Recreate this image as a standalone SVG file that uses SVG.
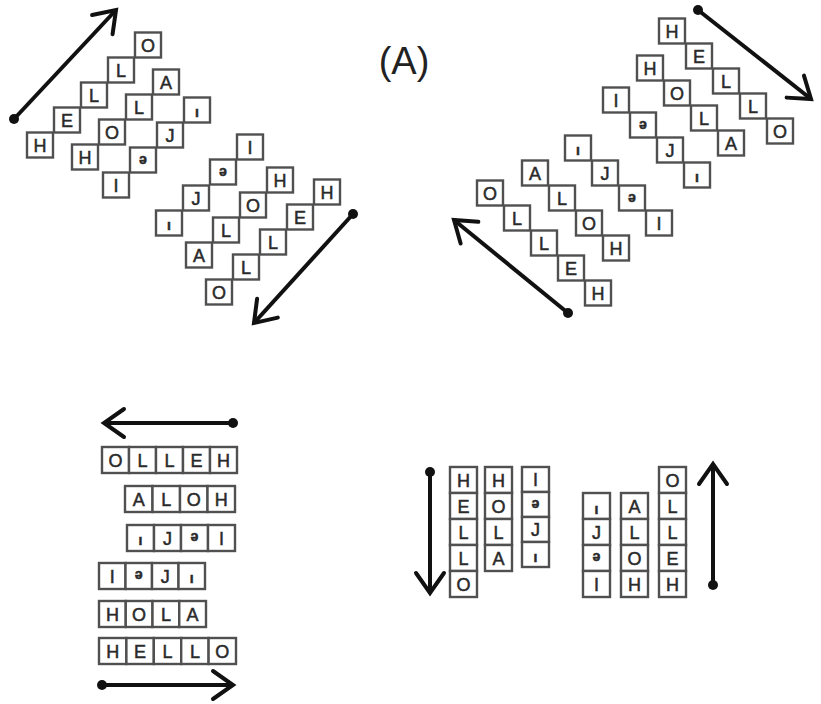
<svg xmlns="http://www.w3.org/2000/svg" width="821" height="704" viewBox="0 0 821 704">
<defs>
<style>
.b{fill:#fff;stroke:#505050;stroke-width:2.4}
.t{font-family:"Liberation Sans",Arial,sans-serif;font-size:18px;fill:#2a2a2a;stroke:#2a2a2a;stroke-width:0.5;text-anchor:middle}
.s{font-size:14px;font-weight:bold}
.a{stroke:#111;stroke-width:4;fill:none;marker-end:url(#head);marker-start:url(#dot)}
.lbl{font-family:"Liberation Sans",Arial,sans-serif;font-size:38px;fill:#222;text-anchor:middle}
</style>
<marker id="head" markerUnits="userSpaceOnUse" markerWidth="40" markerHeight="40" viewBox="-24 -20 28 40" refX="0" refY="0" orient="auto">
<path d="M-20,-14 L0,0 L-20,14" fill="none" stroke="#111" stroke-width="4" stroke-linecap="round" stroke-linejoin="miter"/>
</marker>
<marker id="dot" markerUnits="userSpaceOnUse" markerWidth="14" markerHeight="14" viewBox="-7 -7 14 14" refX="0" refY="0">
<circle r="5" fill="#111"/>
</marker>
</defs>
<rect width="821" height="704" fill="#fff"/>

<text class="lbl" x="404" y="74">(A)</text>

<g id="connectors">
<line class="a" x1="14" y1="119" x2="116" y2="10"/>
<line class="a" x1="353" y1="214" x2="254" y2="323"/>
<line class="a" x1="698" y1="10" x2="811" y2="99"/>
<line class="a" x1="568" y1="313" x2="454" y2="220"/>
<line class="a" x1="233" y1="423" x2="104" y2="423"/>
<line class="a" x1="102" y1="685" x2="233" y2="685"/>
<line class="a" x1="430" y1="472" x2="430" y2="593"/>
<line class="a" x1="713" y1="585" x2="713" y2="464"/>
</g>

<!-- top-left, up-right -->
<g id="tl-hello">
<rect class="b" x="27" y="132.5" width="26" height="25"/><text class="t" x="40" y="151.5">H</text>
<rect class="b" x="54" y="107.5" width="26" height="25"/><text class="t" x="67" y="126.5">E</text>
<rect class="b" x="81" y="82.5" width="26" height="25"/><text class="t" x="94" y="101.5">L</text>
<rect class="b" x="108" y="57.5" width="26" height="25"/><text class="t" x="121" y="76.5">L</text>
<rect class="b" x="135" y="32.5" width="26" height="25"/><text class="t" x="148" y="51.5">O</text>
</g>
<g id="tl-hola">
<rect class="b" x="72" y="144.5" width="26" height="25"/><text class="t" x="85" y="163.5">H</text>
<rect class="b" x="99" y="119.5" width="26" height="25"/><text class="t" x="112" y="138.5">O</text>
<rect class="b" x="126" y="94.5" width="26" height="25"/><text class="t" x="139" y="113.5">L</text>
<rect class="b" x="153" y="69.5" width="26" height="25"/><text class="t" x="166" y="88.5">A</text>
</g>
<g id="tl-third">
<rect class="b" x="103" y="172.5" width="26" height="25"/><text class="t" x="116" y="191.5">I</text>
<rect class="b" x="130" y="147.5" width="26" height="25"/><text class="t s" x="143" y="164">ə</text>
<rect class="b" x="157" y="122.5" width="26" height="25"/><text class="t" x="170" y="141.5">J</text>
<rect class="b" x="184" y="97.5" width="26" height="25"/><text class="t s" x="197" y="117">ı</text>
</g>

<!-- top-left, down-left -->
<g id="tl-olleh">
<rect class="b" x="206" y="279.5" width="26" height="25"/><text class="t" x="219" y="298.5">O</text>
<rect class="b" x="233" y="254.5" width="26" height="25"/><text class="t" x="246" y="273.5">L</text>
<rect class="b" x="260" y="229.5" width="26" height="25"/><text class="t" x="273" y="248.5">L</text>
<rect class="b" x="287" y="204.5" width="26" height="25"/><text class="t" x="300" y="223.5">E</text>
<rect class="b" x="314" y="179.5" width="26" height="25"/><text class="t" x="327" y="198.5">H</text>
</g>
<g id="tl-aloh">
<rect class="b" x="186" y="242.5" width="26" height="25"/><text class="t" x="199" y="261.5">A</text>
<rect class="b" x="213" y="217.5" width="26" height="25"/><text class="t" x="226" y="236.5">L</text>
<rect class="b" x="240" y="192.5" width="26" height="25"/><text class="t" x="253" y="211.5">O</text>
<rect class="b" x="267" y="167.5" width="26" height="25"/><text class="t" x="280" y="186.5">H</text>
</g>
<g id="tl-third-rev">
<rect class="b" x="156" y="210.5" width="26" height="25"/><text class="t s" x="169" y="230">ı</text>
<rect class="b" x="183" y="185.5" width="26" height="25"/><text class="t" x="196" y="204.5">J</text>
<rect class="b" x="210" y="159.5" width="26" height="25"/><text class="t s" x="223" y="176">ə</text>
<rect class="b" x="237" y="134.5" width="26" height="25"/><text class="t" x="250" y="153.5">I</text>
</g>

<!-- top-right, down-right -->
<g id="tr-hello">
<rect class="b" x="659" y="18.5" width="26" height="25"/><text class="t" x="672" y="37.5">H</text>
<rect class="b" x="686" y="43.5" width="26" height="25"/><text class="t" x="699" y="62.5">E</text>
<rect class="b" x="713" y="68.5" width="26" height="25"/><text class="t" x="726" y="87.5">L</text>
<rect class="b" x="740" y="93.5" width="26" height="25"/><text class="t" x="753" y="112.5">L</text>
<rect class="b" x="767" y="118.5" width="26" height="25"/><text class="t" x="780" y="137.5">O</text>
</g>
<g id="tr-hola">
<rect class="b" x="637" y="55.5" width="26" height="25"/><text class="t" x="650" y="74.5">H</text>
<rect class="b" x="664" y="80.5" width="26" height="25"/><text class="t" x="677" y="99.5">O</text>
<rect class="b" x="691" y="105.5" width="26" height="25"/><text class="t" x="704" y="124.5">L</text>
<rect class="b" x="718" y="130.5" width="26" height="25"/><text class="t" x="731" y="149.5">A</text>
</g>
<g id="tr-third">
<rect class="b" x="603" y="87.5" width="26" height="25"/><text class="t" x="616" y="106.5">I</text>
<rect class="b" x="630" y="112.5" width="26" height="25"/><text class="t s" x="643" y="129">ə</text>
<rect class="b" x="657" y="137.5" width="26" height="25"/><text class="t" x="670" y="156.5">J</text>
<rect class="b" x="684" y="162.5" width="26" height="25"/><text class="t s" x="697" y="182">ı</text>
</g>

<!-- top-right, up-left -->
<g id="tr-third-rev">
<rect class="b" x="565" y="135.5" width="26" height="25"/><text class="t s" x="578" y="155">ı</text>
<rect class="b" x="592" y="160.5" width="26" height="25"/><text class="t" x="605" y="179.5">J</text>
<rect class="b" x="619" y="185.5" width="26" height="25"/><text class="t s" x="632" y="202">ə</text>
<rect class="b" x="646" y="210.5" width="26" height="25"/><text class="t" x="659" y="229.5">I</text>
</g>
<g id="tr-aloh">
<rect class="b" x="522" y="160.5" width="26" height="25"/><text class="t" x="535" y="179.5">A</text>
<rect class="b" x="549" y="185.5" width="26" height="25"/><text class="t" x="562" y="204.5">L</text>
<rect class="b" x="576" y="210.5" width="26" height="25"/><text class="t" x="589" y="229.5">O</text>
<rect class="b" x="603" y="235.5" width="26" height="25"/><text class="t" x="616" y="254.5">H</text>
</g>
<g id="tr-olleh">
<rect class="b" x="477" y="180.5" width="26" height="25"/><text class="t" x="490" y="199.5">O</text>
<rect class="b" x="504" y="205.5" width="26" height="25"/><text class="t" x="517" y="224.5">L</text>
<rect class="b" x="531" y="230.5" width="26" height="25"/><text class="t" x="544" y="249.5">L</text>
<rect class="b" x="558" y="255.5" width="26" height="25"/><text class="t" x="571" y="274.5">E</text>
<rect class="b" x="585" y="280.5" width="26" height="25"/><text class="t" x="598" y="299.5">H</text>
</g>

<!-- bottom-left rows -->
<g id="bl-olleh">
<rect class="b" x="102" y="447" width="27" height="26"/><text class="t" x="115.5" y="466.5">O</text>
<rect class="b" x="129" y="447" width="27" height="26"/><text class="t" x="142.5" y="466.5">L</text>
<rect class="b" x="156" y="447" width="27" height="26"/><text class="t" x="169.5" y="466.5">L</text>
<rect class="b" x="183" y="447" width="27" height="26"/><text class="t" x="196.5" y="466.5">E</text>
<rect class="b" x="210" y="447" width="27" height="26"/><text class="t" x="223.5" y="466.5">H</text>
</g>
<g id="bl-aloh">
<rect class="b" x="125" y="486" width="27.5" height="26"/><text class="t" x="138.75" y="505.5">A</text>
<rect class="b" x="152.5" y="486" width="27.5" height="26"/><text class="t" x="166.25" y="505.5">L</text>
<rect class="b" x="180" y="486" width="27.5" height="26"/><text class="t" x="193.75" y="505.5">O</text>
<rect class="b" x="207.5" y="486" width="27.5" height="26"/><text class="t" x="221.25" y="505.5">H</text>
</g>
<g id="bl-third-rev">
<rect class="b" x="127" y="525" width="27" height="26"/><text class="t s" x="140.5" y="545">ı</text>
<rect class="b" x="154" y="525" width="27" height="26"/><text class="t" x="167.5" y="544.5">J</text>
<rect class="b" x="181" y="525" width="27" height="26"/><text class="t s" x="194.5" y="541">ə</text>
<rect class="b" x="208" y="525" width="27" height="26"/><text class="t" x="221.5" y="544.5">I</text>
</g>
<g id="bl-third">
<rect class="b" x="99" y="563" width="26.5" height="26"/><text class="t" x="112.25" y="582.5">I</text>
<rect class="b" x="125.5" y="563" width="26.5" height="26"/><text class="t s" x="138.75" y="579">ə</text>
<rect class="b" x="152" y="563" width="26.5" height="26"/><text class="t" x="165.25" y="582.5">J</text>
<rect class="b" x="178.5" y="563" width="26.5" height="26"/><text class="t s" x="191.75" y="583">ı</text>
</g>
<g id="bl-hola">
<rect class="b" x="99" y="601" width="26.75" height="26"/><text class="t" x="112.4" y="620.5">H</text>
<rect class="b" x="125.75" y="601" width="26.75" height="26"/><text class="t" x="139.1" y="620.5">O</text>
<rect class="b" x="152.5" y="601" width="26.75" height="26"/><text class="t" x="165.9" y="620.5">L</text>
<rect class="b" x="179.25" y="601" width="26.75" height="26"/><text class="t" x="192.6" y="620.5">A</text>
</g>
<g id="bl-hello">
<rect class="b" x="99" y="638" width="27.4" height="26"/><text class="t" x="112.7" y="657.5">H</text>
<rect class="b" x="126.4" y="638" width="27.4" height="26"/><text class="t" x="140.1" y="657.5">E</text>
<rect class="b" x="153.8" y="638" width="27.4" height="26"/><text class="t" x="167.5" y="657.5">L</text>
<rect class="b" x="181.2" y="638" width="27.4" height="26"/><text class="t" x="194.9" y="657.5">L</text>
<rect class="b" x="208.6" y="638" width="27.4" height="26"/><text class="t" x="222.3" y="657.5">O</text>
</g>

<!-- bottom-right columns -->
<g id="br-hello">
<rect class="b" x="450" y="467" width="27" height="26"/><text class="t" x="463.5" y="486.5">H</text>
<rect class="b" x="450" y="493" width="27" height="26"/><text class="t" x="463.5" y="512.5">E</text>
<rect class="b" x="450" y="519" width="27" height="26"/><text class="t" x="463.5" y="538.5">L</text>
<rect class="b" x="450" y="545" width="27" height="26"/><text class="t" x="463.5" y="564.5">L</text>
<rect class="b" x="450" y="571" width="27" height="26"/><text class="t" x="463.5" y="590.5">O</text>
</g>
<g id="br-hola">
<rect class="b" x="485" y="467" width="27" height="26"/><text class="t" x="498.5" y="486.5">H</text>
<rect class="b" x="485" y="493" width="27" height="26"/><text class="t" x="498.5" y="512.5">O</text>
<rect class="b" x="485" y="519" width="27" height="26"/><text class="t" x="498.5" y="538.5">L</text>
<rect class="b" x="485" y="545" width="27" height="26"/><text class="t" x="498.5" y="564.5">A</text>
</g>
<g id="br-third">
<rect class="b" x="522" y="467" width="27" height="25"/><text class="t" x="535.5" y="486">I</text>
<rect class="b" x="522" y="492" width="27" height="25"/><text class="t s" x="535.5" y="508">ə</text>
<rect class="b" x="522" y="517" width="27" height="25"/><text class="t" x="535.5" y="536">J</text>
<rect class="b" x="522" y="542" width="27" height="25"/><text class="t s" x="535.5" y="562">ı</text>
</g>
<g id="br-third-rev">
<rect class="b" x="583" y="493" width="27" height="26"/><text class="t s" x="596.5" y="514">ı</text>
<rect class="b" x="583" y="519" width="27" height="26"/><text class="t" x="596.5" y="538.5">J</text>
<rect class="b" x="583" y="545" width="27" height="26"/><text class="t s" x="596.5" y="561">ə</text>
<rect class="b" x="583" y="571" width="27" height="26"/><text class="t" x="596.5" y="590.5">I</text>
</g>
<g id="br-aloh">
<rect class="b" x="621" y="493" width="27" height="26"/><text class="t" x="634.5" y="512.5">A</text>
<rect class="b" x="621" y="519" width="27" height="26"/><text class="t" x="634.5" y="538.5">L</text>
<rect class="b" x="621" y="545" width="27" height="26"/><text class="t" x="634.5" y="564.5">O</text>
<rect class="b" x="621" y="571" width="27" height="26"/><text class="t" x="634.5" y="590.5">H</text>
</g>
<g id="br-olleh">
<rect class="b" x="659" y="467" width="27" height="26"/><text class="t" x="672.5" y="486.5">O</text>
<rect class="b" x="659" y="493" width="27" height="26"/><text class="t" x="672.5" y="512.5">L</text>
<rect class="b" x="659" y="519" width="27" height="26"/><text class="t" x="672.5" y="538.5">L</text>
<rect class="b" x="659" y="545" width="27" height="26"/><text class="t" x="672.5" y="564.5">E</text>
<rect class="b" x="659" y="571" width="27" height="26"/><text class="t" x="672.5" y="590.5">H</text>
</g>
</svg>
